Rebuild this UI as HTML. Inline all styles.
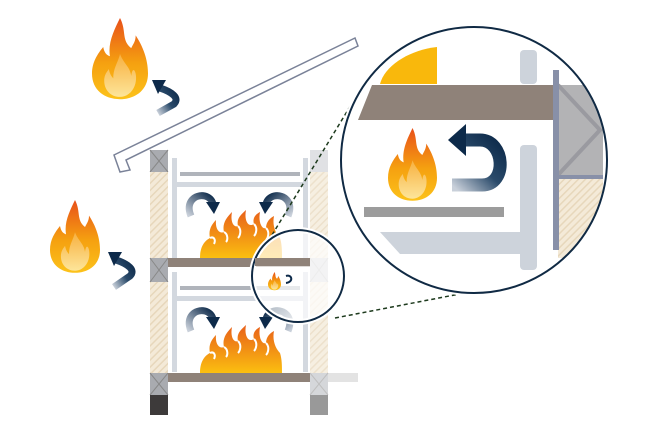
<!DOCTYPE html>
<html><head><meta charset="utf-8"><style>
html,body{margin:0;padding:0;background:#fff;}
svg{display:block;}
</style></head><body>
<svg width="670" height="443" viewBox="0 0 670 443" xmlns="http://www.w3.org/2000/svg">
<defs>
<linearGradient id="fl" x1="0" y1="0" x2="0" y2="1">
<stop offset="0" stop-color="#e8501a"/><stop offset="0.55" stop-color="#f5a010"/><stop offset="1" stop-color="#fcc21a"/>
</linearGradient>
<linearGradient id="fi" x1="0" y1="0" x2="0" y2="1">
<stop offset="0" stop-color="#f7b040"/><stop offset="1" stop-color="#fde59a"/>
</linearGradient>
<linearGradient id="ar" x1="1" y1="0" x2="0" y2="1">
<stop offset="0" stop-color="#0d2a4a"/><stop offset="0.5" stop-color="#2a4a6a"/><stop offset="1" stop-color="#c9d0da"/>
</linearGradient>
<linearGradient id="ar2" x1="1" y1="0" x2="0" y2="1" gradientUnits="objectBoundingBox">
<stop offset="0" stop-color="#0d2a4a"/><stop offset="1" stop-color="#c9d0da"/>
</linearGradient>
<linearGradient id="rf" x1="0" y1="0" x2="0" y2="1">
<stop offset="0" stop-color="#e8601a"/><stop offset="1" stop-color="#fbbf10"/>
</linearGradient>
<pattern id="hatch" width="5" height="5" patternUnits="userSpaceOnUse" patternTransform="rotate(45)">
<rect width="5" height="5" fill="#f4ead8"/><rect width="1.5" height="5" fill="#e7d7bb"/>
</pattern>
<g id="flame">
<path d="M50 0 C62 22 52 38 70 52 C74 44 78 40 78 30 C95 55 100 78 100 96 C100 124 78 140 50 140 C22 140 0 124 0 96 C0 76 10 62 20 50 C22 60 26 64 32 66 C28 42 40 20 50 0Z" fill="url(#fl)"/>
<path d="M50 62 C56 78 68 84 70 100 C72 86 76 88 78 96 C82 118 68 136 50 136 C32 136 20 122 22 104 C24 94 28 92 30 88 C32 98 36 102 38 104 C38 86 46 78 50 62Z" fill="url(#fi)"/>
</g>
<g id="rfire">
<path d="M0 48 C0 35 6 30 10 28 C8 20 12 14 16 10 C15 20 20 24 24 22 C22 14 26 8 32 2 C30 12 34 18 38 16 C36 8 42 4 46 0 C44 10 48 18 54 14 C52 8 56 4 60 2 C58 12 62 20 66 18 C66 12 70 8 74 6 C72 16 76 24 80 28 C82 34 82 42 82 48Z" fill="url(#rf)"/>
<path d="M10 28 C14 26 16 30 14 34 M24 22 C28 24 28 30 26 32 M38 16 C42 20 40 26 38 28 M54 14 C58 18 56 24 54 26 M66 18 C70 22 68 28 66 30" stroke="#fff" stroke-width="2" fill="none"/>
</g>
<g id="uarr">
<path d="M4 24 C-2 10 8 2 18 4 C22 5 25 8 26 12" fill="none" stroke="url(#ar2)" stroke-width="7"/>
<polygon points="19,10 33,10 27,22" fill="#0d2a4a"/>
</g>
</defs>

<!-- roof -->
<path d="M114 155 L355 38 L358 46 L126 160 L130 170 L120 172 Z" fill="#fff" stroke="#7a8298" stroke-width="1.5"/>

<!-- inner light grey frames -->
<g fill="#d3d8df">
<rect x="172" y="158" width="5" height="100"/>
<rect x="303" y="158" width="5" height="100"/>
<rect x="180" y="172" width="120" height="4" fill="#b0b4bb"/>
<rect x="172" y="182" width="136" height="5"/>
<rect x="172" y="272" width="5" height="100"/>
<rect x="303" y="272" width="5" height="100"/>
<rect x="180" y="286" width="120" height="4" fill="#b0b4bb"/>
<rect x="172" y="296" width="136" height="5"/>
</g>

<!-- floors -->
<rect x="168" y="258" width="142" height="9" fill="#8f8279"/>
<rect x="168" y="373" width="142" height="9" fill="#8f8279"/>
<rect x="328" y="373" width="30" height="9" fill="#e3e3e3"/>

<!-- left wall -->
<g>
<rect x="150" y="150" width="18" height="22" fill="#a9abb0"/><path d="M150 150 L168 172 M168 150 L150 172" stroke="#888" stroke-width="1"/>
<rect x="150" y="172" width="18" height="86" fill="url(#hatch)"/>
<rect x="150" y="258" width="18" height="24" fill="#a9abb0"/><path d="M150 258 L168 282 M168 258 L150 282" stroke="#888"/>
<rect x="150" y="282" width="18" height="91" fill="url(#hatch)"/>
<rect x="150" y="373" width="18" height="22" fill="#a9abb0"/><path d="M150 373 L168 395 M168 373 L150 395" stroke="#888"/>
<rect x="150" y="395" width="18" height="20" fill="#3d3a3a"/>
</g>
<!-- right wall (faded) -->
<g opacity="0.75">
<rect x="310" y="150" width="18" height="22" fill="#d6d8dc"/>
<rect x="310" y="172" width="18" height="86" fill="url(#hatch)"/>
<rect x="310" y="258" width="18" height="24" fill="#c8cace"/><path d="M310 258 L328 282 M328 258 L310 282" stroke="#aaa"/>
<rect x="310" y="282" width="18" height="91" fill="url(#hatch)"/>
<rect x="310" y="373" width="18" height="22" fill="#c8cace"/><path d="M310 373 L328 395 M328 373 L310 395" stroke="#aaa"/>
<rect x="310" y="395" width="18" height="20" fill="#777"/>
</g>

<!-- room fires -->
<use href="#rfire" transform="translate(200 210)"/>
<use href="#rfire" transform="translate(200 325)"/>

<!-- room arrows -->
<use href="#uarr" transform="translate(187 192)"/>
<use href="#uarr" transform="translate(187 307)"/>
<use href="#uarr" transform="translate(292 192) scale(-1 1)"/>
<use href="#uarr" transform="translate(292 307) scale(-1 1)"/>

<!-- outside flames & arrows -->
<use href="#flame" transform="translate(92 18) scale(0.56 0.58)"/>
<use href="#flame" transform="translate(50 200) scale(0.5 0.52)"/>
<g fill="none" stroke="url(#ar)" stroke-width="7">
<path d="M160 88 C172 92 180 98 174 104 L158 113"/>
<path d="M116 260 C128 264 136 270 130 276 L114 287"/>
</g>
<polygon points="152,80 166,80 158,94" fill="#0d2a4a"/>
<polygon points="108,252 122,252 114,266" fill="#0d2a4a"/>

<!-- dashed connectors -->
<path d="M272 235 L354 100" stroke="#1d3a1d" stroke-width="1.5" stroke-dasharray="4 3" fill="none"/>
<path d="M335 318 L470 292" stroke="#1d3a1d" stroke-width="1.5" stroke-dasharray="4 3" fill="none"/>

<!-- small circle -->
<circle cx="298" cy="276" r="46" fill="#fff" fill-opacity="0.7" stroke="#fff" stroke-width="6"/>
<circle cx="298" cy="276" r="46" fill="none" stroke="#102a44" stroke-width="2"/>
<rect x="255" y="258" width="55" height="8" fill="#8f8279"/>
<use href="#flame" transform="translate(268 272) scale(0.13 0.13)"/>
<path d="M286 276 C292 274 294 282 286 283" fill="none" stroke="#0d2a4a" stroke-width="2"/>

<!-- big circle -->
<circle cx="474" cy="160" r="136" fill="#fff"/>
<clipPath id="bc"><circle cx="474" cy="160" r="133"/></clipPath>
<g clip-path="url(#bc)">
<path d="M380 84 C385 65 410 50 437 47 L437 84Z" fill="#f9b80c"/>
<rect x="520" y="50" width="17" height="34" rx="4" fill="#cdd3db"/>
<path d="M372 85 L560 85 L560 120 L358 120 Z" fill="#8f8279"/>
<rect x="520" y="145" width="17" height="125" rx="4" fill="#cdd3db"/>
<path d="M380 232 L537 232 L537 254 L400 254 Z" fill="#cdd3db"/>
<rect x="364" y="207" width="140" height="10" fill="#9c9c9c"/>
<rect x="558" y="85" width="45" height="90" fill="#b3b3b5"/>
<path d="M558 85 L600 130 L558 175" stroke="#9a9aa0" stroke-width="4" fill="none"/>
<rect x="558" y="178" width="45" height="80" fill="url(#hatch)"/>
<rect x="553" y="70" width="6" height="180" fill="#8890a8"/>
<rect x="553" y="175" width="50" height="4" fill="#8890a8"/>
</g>
<circle cx="474" cy="160" r="133" fill="none" stroke="#102a44" stroke-width="2"/>
<use href="#flame" transform="translate(388 128) scale(0.49 0.52)"/>
<path d="M456 140 L480 140 C505 140 508 185 482 185 L452 185" fill="none" stroke="url(#ar)" stroke-width="13"/>
<polygon points="448,140 466,124 466,156" fill="#0d2a4a"/>
</svg>
</body></html>
